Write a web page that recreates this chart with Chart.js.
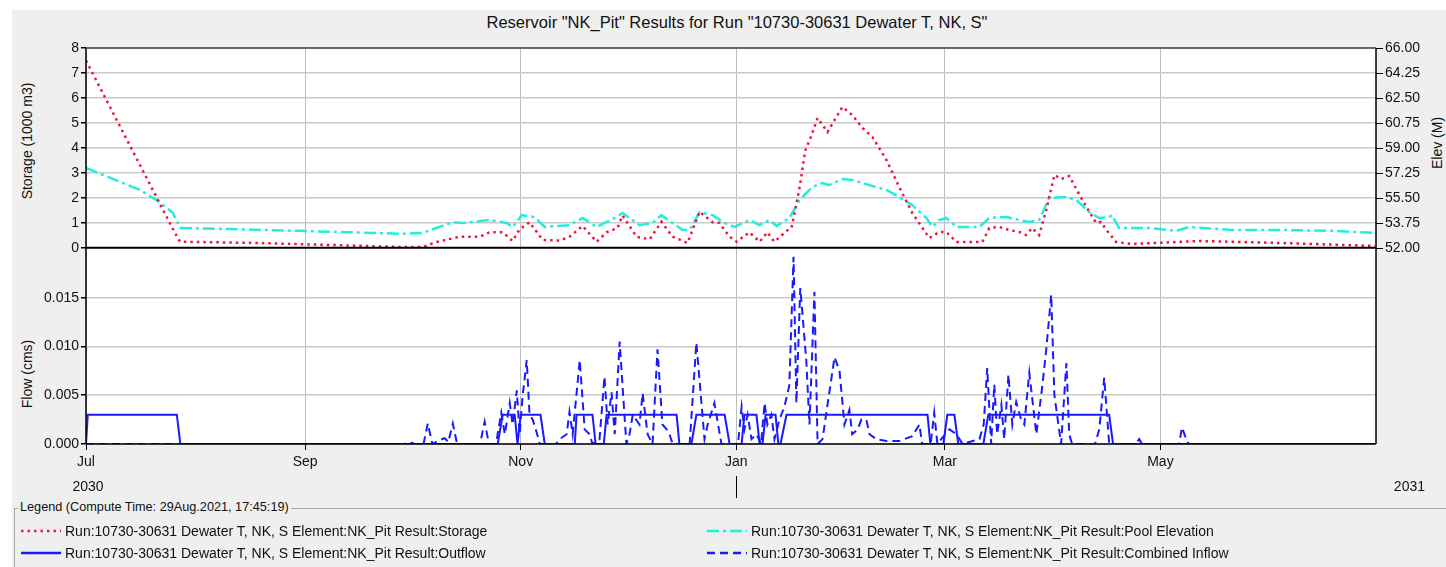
<!DOCTYPE html>
<html>
<head>
<meta charset="utf-8">
<script src="https://cdn.jsdelivr.net/npm/chart.js@4.4.1/dist/chart.umd.min.js"></script>
<style>
    html, body { margin: 0; padding: 0; width: 1446px; height: 567px; overflow: hidden; background: #fff; }
    body { font-family: "Liberation Sans", Arial, sans-serif; color: #111; }
    #panel { position: absolute; left: 12px; top: 10px; width: 1434px; height: 557px; background: #efefef; }
    canvas { position: absolute; left: 0; }
    #topChart { top: 40px; }
    #flowChart { top: 248px; }
    .title { position: absolute; left: 737px; top: 13px; transform: translateX(-50%); font-size: 16.5px; white-space: nowrap; }
    .axis-title { position: absolute; font-size: 14px; white-space: nowrap; transform: translate(-50%, -50%) rotate(-90deg); }
    .legend-box { position: absolute; left: 14px; top: 508px; width: 1440px; height: 70px; border-top: 1px solid #a9a9a9; border-left: 1px solid #a9a9a9; }
    .legend-title { position: absolute; left: 18px; top: 500px; font-size: 12.7px; background: #efefef; padding: 0 2px; white-space: nowrap; }
    .legend-item { position: absolute; font-size: 14px; white-space: nowrap; height: 16px; line-height: 16px; }
    .legend-item svg { position: absolute; left: 0; top: 3px; }
    .legend-item span { position: absolute; left: 44px; top: 0; }
</style>
</head>
<body>
<div id="panel"></div>
<div class="title">Reservoir "NK_Pit" Results for Run "10730-30631 Dewater T, NK, S"</div>
<div class="axis-title" style="left:27px; top:141px;">Storage (1000 m3)</div>
<div class="axis-title" style="left:1437px; top:143px;">Elev (M)</div>
<div class="axis-title" style="left:27px; top:374px;">Flow (cms)</div>

<canvas id="topChart" width="1446" height="216"></canvas>
<canvas id="flowChart" width="1446" height="262"></canvas>

<div class="legend-box"></div>
<div class="legend-title">Legend (Compute Time: 29Aug.2021, 17:45:19)</div>
<div class="legend-item" style="left:21px; top:523px;">
    <svg width="42" height="10"><line x1="0" y1="5" x2="40" y2="5" stroke="#f0143c" stroke-width="2.5" stroke-dasharray="2.5 4"/></svg>
    <span>Run:10730-30631 Dewater T, NK, S Element:NK_Pit Result:Storage</span>
</div>
<div class="legend-item" style="left:21px; top:545px;">
    <svg width="42" height="10"><line x1="0" y1="5" x2="40" y2="5" stroke="#1a1aff" stroke-width="2.5"/></svg>
    <span>Run:10730-30631 Dewater T, NK, S Element:NK_Pit Result:Outflow</span>
</div>
<div class="legend-item" style="left:707px; top:523px;">
    <svg width="42" height="10"><line x1="0" y1="5" x2="40" y2="5" stroke="#22eedd" stroke-width="2.5" stroke-dasharray="12 4 3 4"/></svg>
    <span>Run:10730-30631 Dewater T, NK, S Element:NK_Pit Result:Pool Elevation</span>
</div>
<div class="legend-item" style="left:707px; top:545px;">
    <svg width="42" height="10"><line x1="0" y1="5" x2="40" y2="5" stroke="#1a1aff" stroke-width="2.5" stroke-dasharray="8 5"/></svg>
    <span>Run:10730-30631 Dewater T, NK, S Element:NK_Pit Result:Combined Inflow</span>
</div>

<script>
// x は 2030年7月1日からの経過日数
const monthDays = [0, 62, 123, 184, 243, 304];
const monthLabels = ['Jul', 'Sep', 'Nov', 'Jan', 'Mar', 'May'];
const storageTicks = [0, 1, 2, 3, 4, 5, 6, 7, 8];
const elevTicks = [52, 53.75, 55.5, 57.25, 59, 60.75, 62.5, 64.25, 66];
const flowTicks = [0, 0.005, 0.010, 0.015];

// 貯水量 (1000 m3)
const storage = [
    [0, 7.5], [25, 0.65], [26.6, 0.25], [40, 0.22], [49, 0.2], [61, 0.15], [75, 0.1], [89, 0.04],
    [95.3, 0.04], [99.2, 0.24], [105.7, 0.45], [111.4, 0.45], [114.2, 0.63], [117.9, 0.63], [120.7, 0.28],
    [122.7, 0.75], [125.5, 1.03], [129.2, 0.32], [134, 0.3], [136.8, 0.45], [140.5, 0.88], [144.5, 0.25],
    [147.3, 0.63], [150.4, 0.8], [151.8, 1.3], [155.8, 0.45], [159.5, 0.35], [162.8, 1.05], [166, 0.45],
    [170.2, 0.2], [173.6, 1.45], [177.3, 1.03], [179.2, 1.0], [182.1, 0.45], [184.1, 0.25], [187.7, 0.63],
    [190.6, 0.25], [192.8, 0.63], [194.8, 0.25], [198.2, 0.68], [199.6, 0.8], [200.8, 1.6], [202, 2.5],
    [203.5, 3.9], [205, 4.4], [207, 5.2], [209.8, 4.64], [211.8, 5.12], [214, 5.64], [216.8, 5.32],
    [219.7, 4.8], [222.5, 4.44], [226.5, 3.52], [230.1, 2.44], [233.8, 1.4], [238.6, 0.4], [241.4, 0.64],
    [243.4, 0.64], [246.3, 0.24], [253.6, 0.24], [255.6, 0.8], [258.4, 0.84], [261.2, 0.72], [264.1, 0.64],
    [266, 0.52], [267.7, 0.8], [269.7, 0.52], [271.7, 1.52], [274, 2.92], [275.9, 2.76], [278.2, 2.88],
    [281.9, 1.92], [285.8, 1.0], [287.2, 1.04], [288.7, 0.72], [291.5, 0.24], [296, 0.16], [315, 0.28],
    [338.4, 0.2], [364.7, 0.08]
];

// 貯水位 (M)
const poolElevation = [
    [0, 57.6], [15.3, 56.06], [20.9, 55.2], [24.6, 54.45], [26.6, 53.4], [40, 53.33], [60, 53.2], [75, 53.1],
    [89, 53.0], [95.3, 53.05], [97.5, 53.26], [103.8, 53.8], [106.6, 53.75], [114.2, 53.96], [119, 53.75],
    [120.7, 53.47], [123.3, 54.3], [126.9, 54.17], [129.8, 53.47], [136.8, 53.6], [140.5, 54.1], [144.5, 53.47],
    [150.1, 54.17], [151.8, 54.45], [156.6, 53.6], [160.3, 53.75], [162.8, 54.3], [166, 53.75], [168.8, 53.26],
    [170.8, 53.26], [173.6, 54.5], [177.3, 54.3], [180.7, 53.75], [183.5, 53.47], [187.7, 53.96], [190.6, 53.6],
    [193.4, 53.96], [195.4, 53.54], [199, 54.1], [201.9, 55.36], [205.5, 56.27], [208.4, 56.55], [210.3, 56.4],
    [214, 56.83], [216.8, 56.76], [221.7, 56.4], [226.5, 56.06], [230.1, 55.57], [233.8, 55.0], [237.8, 54.1],
    [239.5, 53.47], [241.4, 53.96], [243.4, 54.1], [246.3, 53.47], [252.8, 53.47], [255.6, 54.1], [260.4, 54.17],
    [264.1, 53.96], [266.9, 53.82], [269.7, 53.96], [272.5, 55.5], [277.4, 55.57], [280.2, 55.36], [283.9, 54.5],
    [286.7, 54.1], [289.5, 54.17], [290.3, 54.3], [292.3, 53.4], [300.8, 53.4], [308.5, 53.2], [312.1, 53.47],
    [324.3, 53.26], [338.4, 53.26], [352.6, 53.2], [364.7, 53.05]
];

// 放流量 (cms)
const outflow = [
    [0, 0], [0.5, 0.003], [25.7, 0.003], [26.7, 0], [116.5, 0], [117.9, 0.003], [121.3, 0.003], [122.1, 0],
    [123, 0.003], [128.6, 0.003], [129.8, 0], [138.3, 0], [138.8, 0.003], [143.3, 0.003], [144.2, 0],
    [146.5, 0], [147.3, 0.003], [167.1, 0.003], [167.9, 0], [171.3, 0], [172.7, 0.003], [180.7, 0.003],
    [182.1, 0], [185.5, 0], [186.3, 0.003], [189.7, 0.003], [190.6, 0], [191.4, 0], [192.3, 0.003],
    [195.1, 0.003], [195.9, 0], [196.5, 0], [198.2, 0.003], [238.1, 0.003], [238.9, 0], [242.6, 0],
    [243.7, 0.003], [245.7, 0.003], [246.8, 0], [253.9, 0], [255.3, 0.003], [289.5, 0.003], [290.6, 0],
    [365, 0]
];

// 合計流入量 (cms)
const combinedInflow = [
    [0, 0], [90, 0], [91.6, 0.0002], [93, 0], [95.5, 0], [96.7, 0.0021], [98, 0], [100.1, 0.0004],
    [101.5, 0.0006], [102.5, 0.0002], [103.8, 0.0021], [105, 0], [111.5, 0], [112.8, 0.0023], [114, 0],
    [116, 0], [117.5, 0.0032], [118.5, 0.001], [119.9, 0.0042], [120.7, 0.002], [121.9, 0.0055],
    [122.7, 0.001], [123.5, 0.0048], [124.7, 0.0086], [125.5, 0.003], [126.4, 0.0025], [127.5, 0.0012],
    [128.4, 0], [133, 0], [134, 0.0005], [136, 0.001], [136.8, 0.0033], [137.7, 0.001], [139.7, 0.0086],
    [141.1, 0.0015], [142.5, 0.001], [143.3, 0], [145.3, 0.0005], [146.7, 0.0069], [147.6, 0.002],
    [148.7, 0.0053], [149.6, 0.001], [151, 0.0105], [151.8, 0.006], [152.9, 0], [153.8, 0.001],
    [154.7, 0.003], [156.6, 0.002], [157.5, 0.0052], [158.9, 0.001], [160.3, 0], [161.7, 0.0097],
    [163.1, 0.002], [164.3, 0.0015], [165.1, 0.001], [166, 0], [170.8, 0], [172.7, 0.0104], [175, 0.0005],
    [175.9, 0.002], [177.8, 0.0042], [179.8, 0], [184.5, 0], [185.5, 0.0038], [186.3, 0.0015],
    [187.2, 0.003], [188.3, 0.0005], [189.7, 0.001], [191, 0], [192, 0.0042], [192.8, 0.002],
    [193.9, 0.003], [194.8, 0.0005], [196.2, 0.0025], [197.6, 0.0038], [199, 0.006], [200.2, 0.0192],
    [201, 0.0042], [202.1, 0.016], [203.8, 0.0086], [204.7, 0.002], [206.1, 0.0156], [207, 0],
    [208.4, 0.0005], [209.8, 0.004], [211.8, 0.0089], [213.2, 0.0075], [214.6, 0.002], [216, 0.0035],
    [216.8, 0.001], [218.3, 0.0015], [219.4, 0.0025], [220.8, 0.0025], [221.7, 0.001], [223.6, 0.0005],
    [226.5, 0.0003], [230.1, 0.0003], [233.8, 0.0008], [235.8, 0.002], [236.6, 0], [239, 0],
    [240, 0.0032], [240.9, 0], [242, 0.0005], [244.3, 0.0015], [246.3, 0.001], [248, 0], [252.8, 0.0005],
    [254, 0.002], [255, 0.0078], [256.1, 0], [257, 0.0061], [257.8, 0.001], [259, 0.004], [259.8, 0.0005],
    [261, 0.0071], [262.1, 0.002], [263.2, 0.0043], [264.6, 0.0025], [265.5, 0.002], [266.9, 0.0073],
    [268.9, 0.001], [270.6, 0.006], [271.7, 0.0097], [273.1, 0.0153], [274, 0.005], [275.9, 0],
    [277.4, 0.0083], [278.2, 0.001], [279, 0], [285.5, 0], [286.7, 0.0015], [288.1, 0.0068], [289.5, 0],
    [297, 0], [298, 0.0005], [298.8, 0], [309.3, 0], [310.1, 0.0017], [311.3, 0.0005], [312, 0], [365, 0]
];

const toXY = arr => arr.map(p => ({ x: p[0], y: p[1] }));

const TICK_FONT = { family: '"Liberation Sans", Arial, sans-serif', size: 14 };
const GRID_COLOR = '#c9c9c9';

// 目盛りラベル用の余白を取らず、グラフ領域を固定位置にする
const noPadding = s => { s.paddingTop = 0; s.paddingBottom = 0; s.paddingLeft = 0; s.paddingRight = 0; };

/**
 * グラフ領域を白く塗り、外枠を描くプラグイン
 */
const framePlugin = {
    id: 'frame',
    beforeDraw(chart) {
        const { ctx, chartArea: a } = chart;
        ctx.save();
        ctx.fillStyle = '#ffffff';
        ctx.fillRect(a.left, a.top, a.right - a.left, a.bottom - a.top);
        ctx.restore();
    },
    afterDraw(chart, args, opts) {
        const { ctx, chartArea: a } = chart;
        ctx.save();
        ctx.strokeStyle = '#000';
        ctx.lineWidth = 1.5;
        ctx.beginPath();
        ctx.moveTo(a.left, a.top); ctx.lineTo(a.left, a.bottom);
        ctx.moveTo(a.right, a.top); ctx.lineTo(a.right, a.bottom);
        ctx.stroke();
        ctx.strokeStyle = opts.topColor || '#000';
        ctx.beginPath(); ctx.moveTo(a.left, a.top); ctx.lineTo(a.right, a.top); ctx.stroke();
        ctx.strokeStyle = '#000';
        ctx.lineWidth = opts.bottomWidth || 1.5;
        ctx.beginPath(); ctx.moveTo(a.left, a.bottom); ctx.lineTo(a.right, a.bottom); ctx.stroke();
        ctx.restore();
    }
};

/**
 * 年ラベル (2030 / 2031) と年境界の目印を描くプラグイン
 */
const yearPlugin = {
    id: 'years',
    afterDraw(chart) {
        const { ctx } = chart;
        const x = chart.scales.x;
        ctx.save();
        ctx.font = '14px "Liberation Sans", Arial, sans-serif';
        ctx.fillStyle = '#111';
        ctx.textBaseline = 'middle';
        ctx.textAlign = 'center';
        ctx.fillText('2030', x.getPixelForValue(0) + 2, 239);
        ctx.textAlign = 'right';
        ctx.fillText('2031', chart.width - 21, 239);
        const jan = Math.round(x.getPixelForValue(184)) + 0.5;
        ctx.strokeStyle = '#000';
        ctx.lineWidth = 1;
        ctx.beginPath(); ctx.moveTo(jan, 228); ctx.lineTo(jan, 250); ctx.stroke();
        ctx.restore();
    }
};

const monthAxis = (showLabels) => ({
    type: 'linear',
    min: 0,
    max: 365,
    afterBuildTicks: s => { s.ticks = monthDays.map(v => ({ value: v })); },
    afterFit: s => { s.height = showLabels ? 66 : 0; noPadding(s); },
    ticks: {
        display: showLabels,
        font: TICK_FONT,
        color: '#111',
        padding: 4,
        maxRotation: 0,
        autoSkip: false,
        callback: v => monthLabels[monthDays.indexOf(v)]
    },
    grid: { color: '#bdbdbd', lineWidth: 1, drawTicks: showLabels, tickLength: 6, tickColor: '#000' },
    border: { display: false }
});

// 上段: 貯水量と貯水位
new Chart(document.getElementById('topChart'), {
    type: 'line',
    data: {
        datasets: [
            {
                label: 'Storage',
                data: toXY(storage),
                yAxisID: 'y',
                borderColor: '#f0143c',
                borderWidth: 2.5,
                borderDash: [2.5, 4],
                pointRadius: 0,
                tension: 0
            },
            {
                label: 'Pool Elevation',
                data: toXY(poolElevation),
                yAxisID: 'y2',
                borderColor: '#22eedd',
                borderWidth: 2.5,
                borderDash: [12, 4, 3, 4],
                pointRadius: 0,
                tension: 0
            }
        ]
    },
    options: {
        responsive: false,
        animation: false,
        layout: { padding: { top: 8, bottom: 8, left: 0, right: 0 } },
        plugins: { legend: { display: false }, tooltip: { enabled: false }, frame: { topColor: '#444', bottomWidth: 2.5 } },
        scales: {
            x: monthAxis(false),
            y: {
                position: 'left',
                min: 0,
                max: 8,
                afterBuildTicks: s => { s.ticks = storageTicks.map(v => ({ value: v })); },
                afterFit: s => { s.width = 86; noPadding(s); },
                ticks: { font: TICK_FONT, color: '#111', padding: 2 },
                grid: { color: GRID_COLOR, lineWidth: 1.5, tickLength: 5, tickColor: '#000' },
                border: { display: false }
            },
            y2: {
                position: 'right',
                min: 52,
                max: 66,
                afterBuildTicks: s => { s.ticks = elevTicks.map(v => ({ value: v })); },
                afterFit: s => { s.width = 70; noPadding(s); },
                ticks: { font: TICK_FONT, color: '#111', padding: 2, callback: v => v.toFixed(2) },
                grid: { drawOnChartArea: false, tickLength: 7, tickColor: '#000' },
                border: { display: false }
            }
        }
    },
    plugins: [framePlugin]
});

// 下段: 流量
new Chart(document.getElementById('flowChart'), {
    type: 'line',
    data: {
        datasets: [
            {
                label: 'Outflow',
                data: toXY(outflow),
                borderColor: '#1a1aff',
                borderWidth: 2,
                pointRadius: 0,
                tension: 0
            },
            {
                label: 'Combined Inflow',
                data: toXY(combinedInflow),
                borderColor: '#1a1aff',
                borderWidth: 2,
                borderDash: [8, 5],
                pointRadius: 0,
                tension: 0
            }
        ]
    },
    options: {
        responsive: false,
        animation: false,
        layout: { padding: { top: 0, bottom: 0, left: 0, right: 70 } },
        plugins: { legend: { display: false }, tooltip: { enabled: false }, frame: { topColor: '#000' } },
        scales: {
            x: monthAxis(true),
            y: {
                min: 0,
                max: 0.0201,
                afterBuildTicks: s => { s.ticks = flowTicks.map(v => ({ value: v })); },
                afterFit: s => { s.width = 86; noPadding(s); },
                ticks: { font: TICK_FONT, color: '#111', padding: 2, callback: v => v.toFixed(3) },
                grid: { color: GRID_COLOR, lineWidth: 1.5, tickLength: 5, tickColor: '#000' },
                border: { display: false }
            }
        }
    },
    plugins: [framePlugin, yearPlugin]
});
</script>
</body>
</html>
